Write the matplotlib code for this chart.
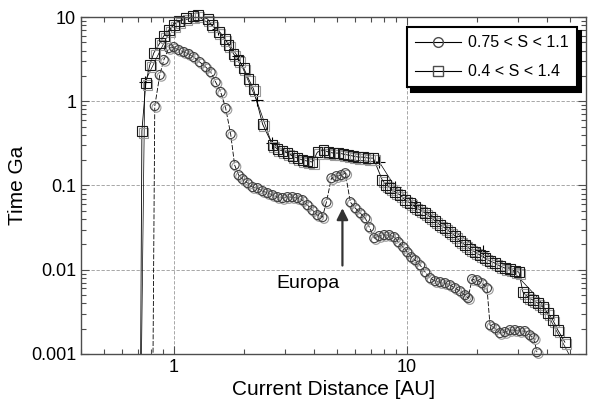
import matplotlib
matplotlib.use("Agg")
import matplotlib.pyplot as plt
import matplotlib.ticker as mticker
import matplotlib.patheffects as pe
from matplotlib.lines import Line2D
import numpy as np

plt.rcParams['font.family'] = ['Liberation Sans', 'DejaVu Sans']

# 0.75 < S < 1.1  (circles)
circ_x = [0.81, 0.829, 0.871, 0.906, 0.952, 1.0, 1.050, 1.104, 1.159, 1.218, 1.292, 1.371, 1.440,
          1.512, 1.589, 1.669, 1.754, 1.824, 1.897, 1.974, 2.073, 2.178, 2.288, 2.404, 2.525,
          2.653, 2.786, 2.927, 3.075, 3.230, 3.394, 3.565, 3.745, 3.934, 4.133, 4.342, 4.516,
          4.744, 4.984, 5.235, 5.445, 5.720, 6.008, 6.312, 6.631, 6.898, 7.246, 7.612, 7.997,
          8.401, 8.825, 9.180, 9.643, 10.03, 10.43, 10.85, 11.40, 11.98, 12.58, 13.22, 13.89,
          14.59, 15.32, 16.10, 16.91, 17.76, 18.30, 19.03, 19.99, 21.00, 22.06, 22.72, 23.87,
          25.07, 26.34, 27.67, 29.07, 30.53, 32.07, 33.70, 35.05, 36.10]
circ_y = [0.0001, 0.877, 2.05, 3.09, 4.28, 4.40, 4.06, 3.84, 3.64, 3.35, 2.92, 2.55, 2.22,
          1.69, 1.29, 0.830, 0.408, 0.175, 0.133, 0.119, 0.107, 0.0957, 0.0931, 0.0858, 0.0812,
          0.0769, 0.0728, 0.0709, 0.0728, 0.0728, 0.0709, 0.0671, 0.0585, 0.0510, 0.0445, 0.0421, 0.0635,
          0.122, 0.129, 0.133, 0.140, 0.0635, 0.0539, 0.0470, 0.0410, 0.0320, 0.0237, 0.0251, 0.0258,
          0.0258, 0.0244, 0.0213, 0.0186, 0.0162, 0.0141, 0.0130, 0.0113, 0.00937, 0.00795, 0.00732, 0.00712,
          0.00693, 0.00656, 0.00605, 0.00557, 0.00499, 0.00460, 0.00774, 0.00752, 0.00693, 0.00605, 0.00220, 0.00202,
          0.00177, 0.00182, 0.00192, 0.00192, 0.00187, 0.00187, 0.00167, 0.00154, 0.00105]

# 0.4 < S < 1.4  (squares)
sq_x = [0.718, 0.730, 0.759, 0.789, 0.821, 0.871, 0.906, 0.952, 1.0, 1.050, 1.126, 1.206, 1.267,
        1.398, 1.454, 1.558, 1.653, 1.719, 1.806, 1.897, 1.994, 2.094, 2.199, 2.404, 2.653,
        2.786, 2.927, 3.075, 3.230, 3.394, 3.565, 3.745, 3.934, 4.133, 4.384, 4.605, 4.838,
        5.082, 5.339, 5.609, 5.892, 6.190, 6.502, 6.831, 7.176, 7.842, 8.156, 8.484, 8.913,
        9.362, 9.834, 10.33, 10.85, 11.40, 11.98, 12.58, 13.22, 13.89, 14.59, 15.32, 16.10,
        16.91, 17.76, 18.66, 19.60, 20.59, 21.63, 22.72, 23.87, 25.07, 26.34, 27.67, 29.07,
        30.23, 31.45, 33.04, 34.71, 36.46, 38.30, 40.24, 42.27, 44.41, 47.59]
sq_y = [0.0001, 0.443, 1.645, 2.69, 3.74, 4.91, 5.95, 7.01, 8.04, 8.97, 9.73, 10.2, 10.5,
        9.47, 8.04, 6.64, 5.48, 4.65, 3.64, 3.09, 2.48, 1.835, 1.396, 0.536, 0.302,
        0.2705, 0.2563, 0.2426, 0.2235, 0.2115, 0.2003, 0.1949, 0.1896, 0.2493, 0.2633, 0.2493, 0.2426,
        0.2426, 0.2360, 0.2296, 0.2235, 0.2175, 0.2175, 0.2115, 0.2115, 0.1159, 0.1011, 0.0931, 0.0835,
        0.0769, 0.0671, 0.0618, 0.0554, 0.0510, 0.0470, 0.0421, 0.0378, 0.0339, 0.0312, 0.0280, 0.0251,
        0.0219, 0.0196, 0.01757, 0.0162, 0.01491, 0.01373, 0.01265, 0.01198, 0.01104, 0.01045, 0.01017, 0.00962,
        0.00937, 0.00542, 0.00473, 0.00436, 0.00401, 0.00360, 0.00305, 0.00252, 0.00192, 0.00138]

# smooth fit drawn with "+" markers
fit_x = [0.72, 0.751, 1.0, 1.27, 1.543, 1.879, 2.266, 2.627, 3.2, 4.256, 7.612, 8.913, 10.96, 21.21, 27.67, 37.2, 49.5]
fit_y = [0.0001, 1.69, 8.5, 10.2, 7.20, 3.44, 1.03, 0.319, 0.23, 0.215, 0.19, 0.0957, 0.0585, 0.0165, 0.01045, 0.00436, 0.001]
fit_marked = [1, 4, 5, 6, 7, 10, 11, 12, 13]

labels = ['0.75 < S < 1.1', '0.4 < S < 1.4']

fig = plt.figure(figsize=(5.89, 4.05), dpi=100)
ax = fig.add_axes([0.1375, 0.126, 0.857, 0.832])

shadow = [pe.SimpleLineShadow(offset=(1.2, -1.2), shadow_color='0.6', alpha=1.0), pe.Normal()]

# connecting lines (clipped)
ax.plot(circ_x, circ_y, color='k', lw=0.6, dashes=(6, 2))
ax.plot(sq_x, sq_y, color='k', lw=0.6)
ax.plot(fit_x, fit_y, color='k', lw=0.5, marker='+', markersize=9, markeredgewidth=0.8,
        markevery=fit_marked)

# markers (not clipped, the peak square pokes above the frame)
ax.plot(circ_x, circ_y, ls='none', marker='o', markersize=6.5, mfc='none', mec='0.25', mew=0.8,
        markevery=slice(1, None), clip_on=False, path_effects=shadow)
ax.plot(sq_x, sq_y, ls='none', marker='s', markersize=7, mfc='none', mec='0.1', mew=0.8,
        markevery=slice(1, None), clip_on=False, path_effects=shadow)

ax.set_xscale('log')
ax.set_yscale('log')
ax.set_xlim(0.4, 58.5)
ax.set_ylim(0.001, 10)

ax.xaxis.set_major_locator(mticker.FixedLocator([1, 10]))
ax.xaxis.set_major_formatter(mticker.FixedFormatter(['1', '10']))
ax.xaxis.set_minor_locator(mticker.LogLocator(base=10, subs=np.arange(2, 10)))
ax.xaxis.set_minor_formatter(mticker.NullFormatter())
ax.yaxis.set_major_locator(mticker.FixedLocator([0.001, 0.01, 0.1, 1, 10]))
ax.yaxis.set_major_formatter(mticker.FixedFormatter(['0.001', '0.01', '0.1', '1', '10']))
ax.yaxis.set_minor_locator(mticker.LogLocator(base=10, subs=np.arange(2, 10)))
ax.yaxis.set_minor_formatter(mticker.NullFormatter())

ax.tick_params(which='both', direction='in', top=True, right=True, color='0.3', labelsize=13)
ax.tick_params(which='major', length=6, width=0.8)
ax.tick_params(which='minor', length=3.5, width=0.8)
for s in ax.spines.values():
    s.set_color('0.3')
    s.set_linewidth(1.0)

ax.grid(True, which='major', ls=(0, (4, 2)), lw=0.6, color='0.6')

ax.set_xlabel('Current Distance [AU]', fontsize=15, labelpad=3)
ax.set_ylabel('Time Ga', fontsize=15, labelpad=3)

ax.annotate('Europa', xy=(5.29, 0.058), xytext=(3.78, 0.0069), fontsize=14,
            ha='center', va='center')
ax.annotate('', xy=(5.29, 0.058), xytext=(5.29, 0.0104),
            arrowprops=dict(arrowstyle='-|>', color='0.2', lw=1.6, mutation_scale=17))

handles = [Line2D([], [], color='k', lw=0.8, marker='o', markersize=7, mfc='none', mec='0.3'),
           Line2D([], [], color='k', lw=0.8, marker='s', markersize=7, mfc='none', mec='0.3')]
leg = ax.legend(handles, labels, loc='upper right', bbox_to_anchor=(0.982, 0.970),
                borderaxespad=0, fontsize=11.5, frameon=True, fancybox=False,
                shadow={'color': 'k', 'alpha': 1, 'ox': 3, 'oy': -3},
                handlelength=2.9, labelspacing=0.9, borderpad=0.5, handletextpad=0.45)
leg.get_frame().set_edgecolor('k')
leg.get_frame().set_linewidth(1.5)

fig.savefig('out.png', dpi=100)
